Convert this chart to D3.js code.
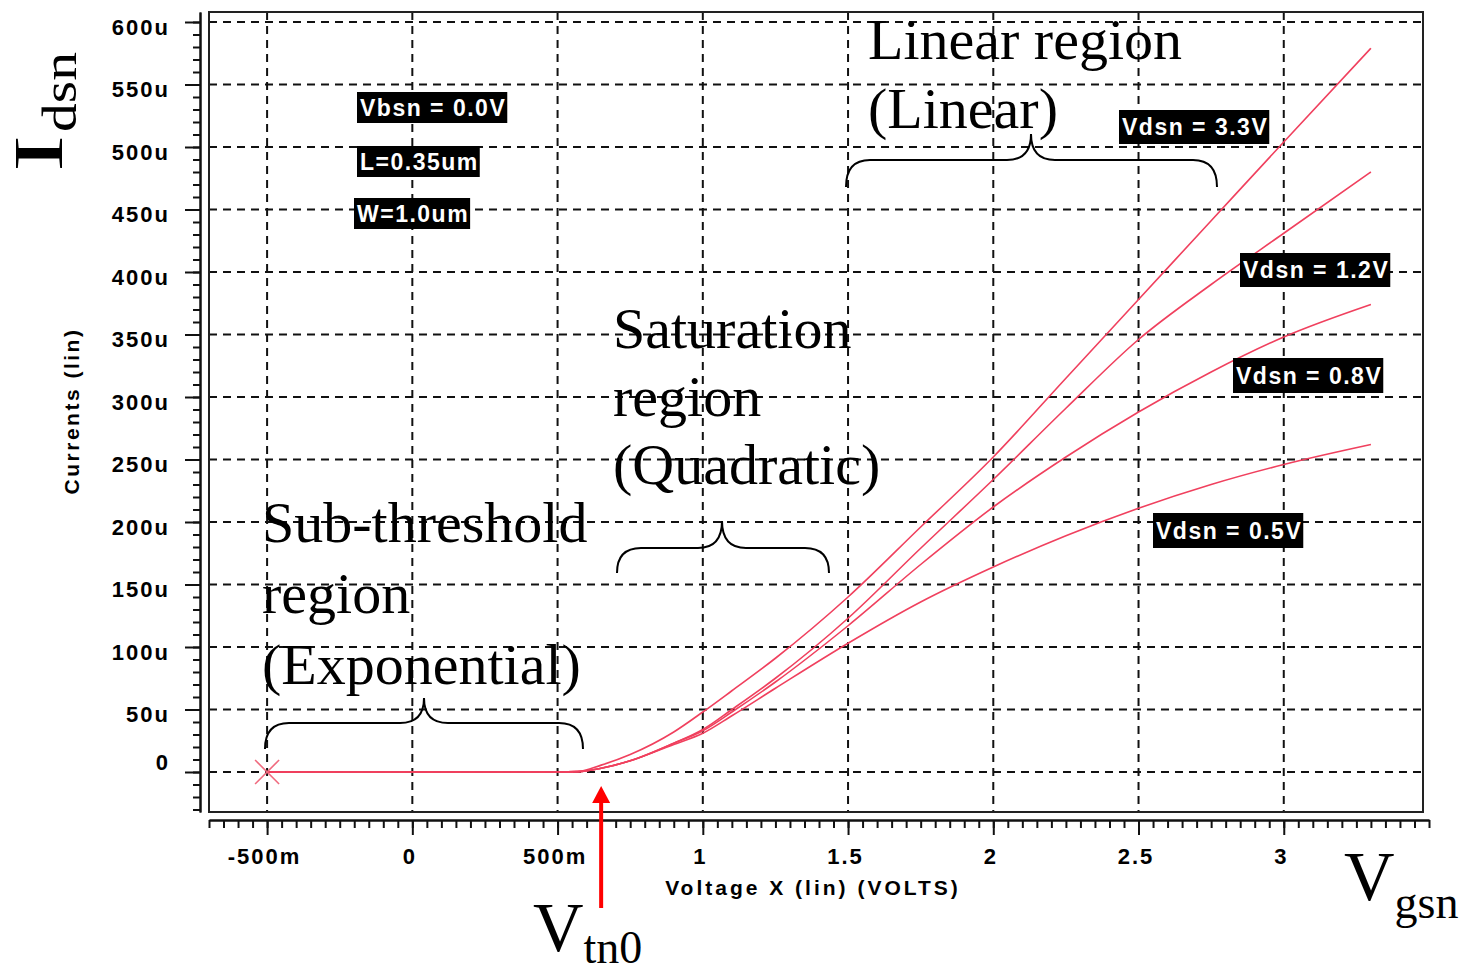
<!DOCTYPE html>
<html>
<head>
<meta charset="utf-8">
<script src="https://d3js.org/d3.v7.min.js"></script>
<style>
body { margin: 0; background: #fff; }
svg { display: block; }
.axis text { font-family: "Liberation Sans", Arial, sans-serif; font-weight: bold; font-size: 22px; letter-spacing: 2px; fill: #000; }
.axis path, .axis line { stroke: #111; stroke-width: 2px; }
.note { font-family: "Liberation Serif", "Times New Roman", serif; fill: #000; }
.tag { font-family: "Liberation Sans", Arial, sans-serif; font-weight: bold; font-size: 23px; letter-spacing: 1.5px; fill: #fff; }
</style>
</head>
<body>
<script>
// gate sweep (V) and drain current (uA) per drain bias
var vgs   = [-0.5, 0, 0.5, 0.57, 0.65, 0.75, 0.9, 1.0, 1.1, 1.25, 1.5, 1.75, 2.0, 2.25, 2.5, 2.75, 3.0, 3.3];
var ids33 = [0, 0, 0, 0.3, 5.5, 14, 32, 48, 65, 91, 140, 196, 252, 315, 378, 441, 504, 579];
var ids12 = [0, 0, 0, 0.3, 3, 9, 23, 34, 50, 75, 123, 179, 234, 291, 346, 390, 431, 480];
var ids08 = [0, 0, 0, 0.3, 3, 9, 23, 33, 48, 72, 117, 166, 212, 252, 288, 320, 348, 374];
var ids05 = [0, 0, 0, 0.3, 3, 9, 22, 31, 45, 67, 103, 136, 164, 189, 211, 230, 246, 262];
var seriesNames = ["Vdsn = 3.3V", "Vdsn = 1.2V", "Vdsn = 0.8V", "Vdsn = 0.5V"];
var infoLabels = ["Vbsn = 0.0V", "L=0.35um", "W=1.0um"];
var vtn0 = 0.65;

var xTicks = [-0.5, 0, 0.5, 1, 1.5, 2, 2.5, 3];
var xTickLabels = ["-500m", "0", "500m", "1", "1.5", "2", "2.5", "3"];
var yTicks = [0, 50, 100, 150, 200, 250, 300, 350, 400, 450, 500, 550, 600];
var yTickLabels = ["0", "50u", "100u", "150u", "200u", "250u", "300u", "350u", "400u", "450u", "500u", "550u", "600u"];

var W = 1463, H = 973;
var box = {left: 209, right: 1423, top: 12, bottom: 812};

var x = d3.scaleLinear().domain([-0.7, 3.5]).range([209, 1429]);
var y = d3.scaleLinear().domain([-32, 608]).range([812, 12]);

var svg = d3.select("body").append("svg")
    .attr("width", W).attr("height", H);

// grid
var grid = svg.append("g")
    .attr("stroke", "#111").attr("stroke-width", 2).attr("stroke-dasharray", "8,6");
grid.selectAll(".gx").data(xTicks).enter().append("line")
    .attr("x1", d => x(d)).attr("x2", d => x(d))
    .attr("y1", box.top).attr("y2", box.bottom);
grid.selectAll(".gy").data(yTicks).enter().append("line")
    .attr("x1", box.left).attr("x2", box.right)
    .attr("y1", d => y(d)).attr("y2", d => y(d));

// frame
svg.append("rect")
    .attr("x", box.left).attr("y", box.top)
    .attr("width", box.right - box.left).attr("height", box.bottom - box.top)
    .attr("fill", "none").attr("stroke", "#222").attr("stroke-width", 2);

// y axis, minor then major
var yMinor = d3.range(-3, 61).map(i => i * 10);
svg.append("g").attr("class", "axis").attr("transform", "translate(200,0)")
    .call(d3.axisLeft(y).tickValues(yMinor).tickSize(7).tickSizeOuter(0).tickFormat(""));
var yAx = svg.append("g").attr("class", "axis").attr("transform", "translate(200,0)")
    .call(d3.axisLeft(y).tickValues(yTicks).tickSize(15).tickSizeOuter(0).tickPadding(15)
        .tickFormat((d, i) => yTickLabels[i]));
yAx.selectAll("text").attr("y", d => d === 0 ? -10 : 5);

// x axis, minor then major
var xMinor = d3.range(-14, 71).map(i => i * 0.05);
svg.append("g").attr("class", "axis").attr("transform", "translate(0,820)")
    .call(d3.axisBottom(x).tickValues(xMinor).tickSize(8).tickSizeOuter(0).tickFormat(""));
var xAx = svg.append("g").attr("class", "axis").attr("transform", "translate(0,820)")
    .call(d3.axisBottom(x).tickValues(xTicks).tickSize(15).tickSizeOuter(0).tickPadding(13)
        .tickFormat((d, i) => xTickLabels[i]));
xAx.selectAll("text").attr("x", -3);

// axis titles
svg.append("text")
    .attr("x", 813).attr("y", 895).attr("text-anchor", "middle")
    .style("font-family", "Liberation Sans").style("font-weight", "bold")
    .style("font-size", "21px").style("letter-spacing", "3px")
    .text("Voltage X (lin) (VOLTS)");
svg.append("text")
    .attr("transform", "translate(79,411) rotate(-90)").attr("text-anchor", "middle")
    .style("font-family", "Liberation Sans").style("font-weight", "bold")
    .style("font-size", "21px").style("letter-spacing", "2.5px")
    .text("Currents (lin)");

// curves
var series = [ids33, ids12, ids08, ids05];
var line = d3.line()
    .x((d, i) => x(vgs[i]))
    .y(d => y(d))
    .curve(d3.curveMonotoneX);
svg.append("g").selectAll("path").data(series).enter().append("path")
    .attr("d", line)
    .attr("fill", "none").attr("stroke", "#f0405e").attr("stroke-width", 1.6);

// start marker
var mx = x(vgs[0]), my = y(ids33[0]);
svg.append("path")
    .attr("d", "M" + (mx - 12) + "," + (my - 12) + "L" + (mx + 12) + "," + (my + 12) +
               "M" + (mx - 12) + "," + (my + 12) + "L" + (mx + 12) + "," + (my - 12))
    .attr("stroke", "#f06a7e").attr("stroke-width", 1.6);

// black tags
function tag(txt, left, top, h) {
    var g = svg.append("g");
    var t = g.append("text").attr("class", "tag")
        .attr("x", left + 3).attr("y", top + h / 2 + 8).text(txt);
    var bb = t.node().getBBox();
    g.insert("rect", "text")
        .attr("x", left).attr("y", top)
        .attr("width", bb.width + 4).attr("height", h)
        .attr("fill", "#000");
}
tag(infoLabels[0], 357, 92, 31);
tag(infoLabels[1], 357, 146, 31);
tag(infoLabels[2], 354, 198, 31);
tag(seriesNames[0], 1119, 110, 34);
tag(seriesNames[1], 1240, 253, 34);
tag(seriesNames[2], 1233, 358, 35);
tag(seriesNames[3], 1153, 513, 35);

// region notes
function note(lines, left, base, step) {
    var t = svg.append("text").attr("class", "note").style("font-size", "58px");
    lines.forEach((s, i) => {
        t.append("tspan").attr("x", left).attr("y", base + i * step).text(s);
    });
}
note(["Linear region", "(Linear)"], 868, 59, 69);
note(["Saturation", "region", "(Quadratic)"], 613, 348, 68);
note(["Sub-threshold", "region", "(Exponential)"], 262, 542, 71);

// braces
function brace(x1, x2, xTip, yEnd, yMid, yTip) {
    var r = 24;
    var p = "M" + x1 + "," + yEnd +
        "Q" + x1 + "," + yMid + " " + (x1 + r) + "," + yMid +
        "L" + (xTip - r) + "," + yMid +
        "Q" + xTip + "," + yMid + " " + xTip + "," + yTip +
        "Q" + xTip + "," + yMid + " " + (xTip + r) + "," + yMid +
        "L" + (x2 - r) + "," + yMid +
        "Q" + x2 + "," + yMid + " " + x2 + "," + yEnd;
    svg.append("path").attr("d", p)
        .attr("fill", "none").attr("stroke", "#000").attr("stroke-width", 2);
}
brace(846, 1217, 1031, 187, 160, 134);
brace(617, 829, 722, 573, 548, 521);
brace(265, 583, 424, 749, 723, 698);

// threshold arrow
var ax = x(vtn0);
svg.append("line").attr("x1", ax).attr("x2", ax).attr("y1", 908).attr("y2", 800)
    .attr("stroke", "#ff0000").attr("stroke-width", 4);
svg.append("path")
    .attr("d", "M" + ax + ",786L" + (ax - 9) + ",803L" + (ax + 9) + ",803Z")
    .attr("fill", "#ff0000");

// big symbols
var vt = svg.append("text").attr("class", "note").attr("x", 533).attr("y", 951);
vt.append("tspan").style("font-size", "70px").text("V");
vt.append("tspan").style("font-size", "46px").attr("dy", 12).text("tn0");

var vg = svg.append("text").attr("class", "note").attr("x", 1344).attr("y", 900);
vg.append("tspan").style("font-size", "70px").text("V");
vg.append("tspan").style("font-size", "46px").attr("dy", 18).text("gsn");

svg.append("text").attr("class", "note")
    .attr("transform", "translate(62,172) rotate(-90) scale(1.6,1)")
    .style("font-size", "70px").text("I");
svg.append("text").attr("class", "note")
    .attr("transform", "translate(76,132) rotate(-90) scale(1.2,1)")
    .style("font-size", "48px").text("dsn");
</script>
</body>
</html>
